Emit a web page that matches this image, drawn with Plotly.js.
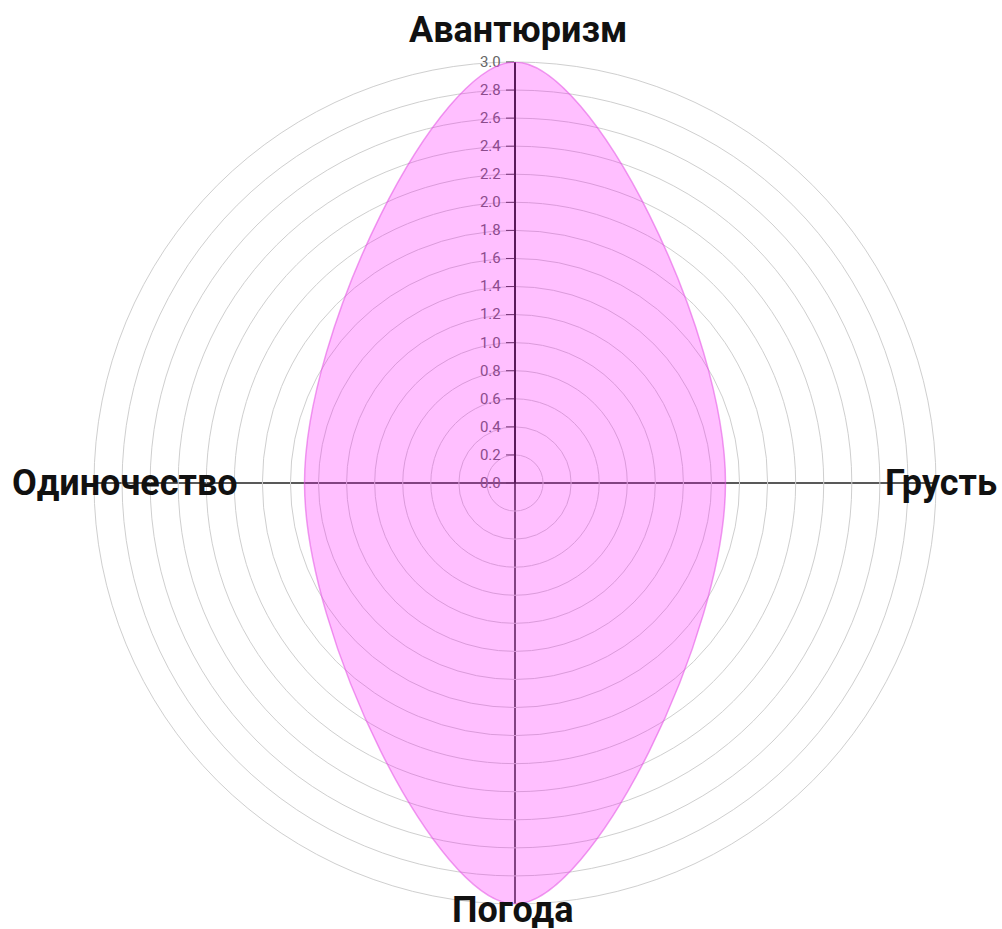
<!DOCTYPE html>
<html>
<head>
<meta charset="utf-8">
<script src="https://cdn.plot.ly/plotly-3.0.1.min.js"></script>
<style>html,body{margin:0;padding:0;background:#fff;}#chart{width:1002px;height:929px;}</style>
</head>
<body>
<div id="chart"></div>
<script>
const categories = ["Авантюризм", "Грусть", "Погода", "Одиночество"];
const values = [3.0, 1.5, 3.0, 1.5];
const radialTicks = [0, 0.2, 0.4, 0.6, 0.8, 1.0, 1.2, 1.4, 1.6, 1.8, 2.0, 2.2, 2.4, 2.6, 2.8, 3.0];

const trace = {
  type: 'scatterpolar',
  r: values.concat([values[0]]),
  theta: categories.concat([categories[0]]),
  mode: 'lines',
  line: {shape: 'spline', smoothing: 1.1, color: 'rgba(225,80,225,0.55)', width: 1.5},
  fill: 'toself',
  fillcolor: 'rgba(255,0,255,0.25)',
  hoverinfo: 'skip'
};

const labelFont = {family: 'Roboto, "Noto Sans", sans-serif', size: 36, color: '#111'};
const annotations = [
  {text: '<b>' + categories[0] + '</b>', x: 0.517, y: 0.968, xanchor: 'center', yanchor: 'middle'},
  {text: '<b>' + categories[1] + '</b>', x: 0.997, y: 0.48, xanchor: 'right', yanchor: 'middle'},
  {text: '<b>' + categories[2] + '</b>', x: 0.512, y: 0.02, xanchor: 'center', yanchor: 'middle'},
  {text: '<b>' + categories[3] + '</b>', x: 0.01, y: 0.48, xanchor: 'left', yanchor: 'middle'}
].map(a => Object.assign({xref: 'paper', yref: 'paper', showarrow: false, font: labelFont}, a));

const layout = {
  width: 1002,
  height: 929,
  margin: {l: 0, r: 0, t: 0, b: 0},
  paper_bgcolor: '#fff',
  showlegend: false,
  annotations: annotations,
  polar: {
    domain: {x: [94/1002, 936/1002], y: [25/929, 867/929]},
    bgcolor: 'rgba(0,0,0,0)',
    radialaxis: {
      range: [0, 3],
      tickvals: radialTicks,
      ticktext: radialTicks.map(v => v.toFixed(1)),
      angle: 90,
      tickangle: 90,
      side: 'counterclockwise',
      ticks: 'outside',
      ticklen: 8,
      tickcolor: '#444',
      showline: true,
      linecolor: '#222',
      linewidth: 2,
      gridcolor: '#cfcfcf',
      gridwidth: 1,
      tickfont: {family: 'Roboto, sans-serif', size: 15, color: '#666'},
      layer: 'below traces'
    },
    angularaxis: {
      type: 'category',
      categoryarray: categories,
      direction: 'clockwise',
      rotation: 90,
      showticklabels: false,
      ticks: '',
      showline: true,
      linecolor: '#cfcfcf',
      linewidth: 1,
      gridcolor: '#222',
      gridwidth: 1.5,
      layer: 'below traces'
    }
  }
};

Plotly.newPlot('chart', [trace], layout, {displayModeBar: false, staticPlot: true});
</script>
</body>
</html>
